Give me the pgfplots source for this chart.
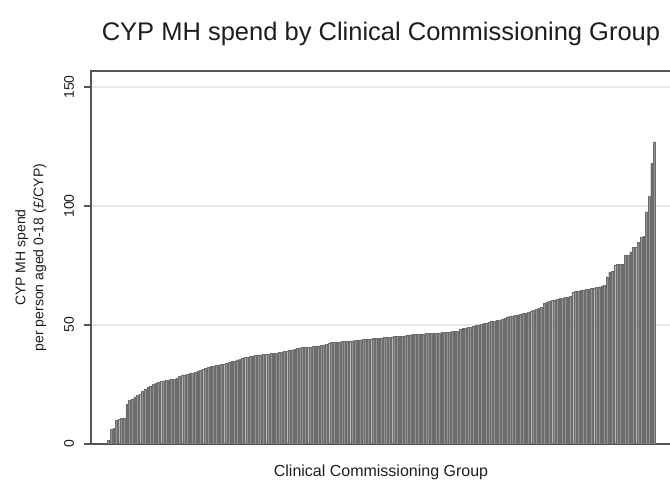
\documentclass[border=0pt]{standalone}
\usepackage{pgfplots}
\pgfplotsset{compat=1.18}
\usepackage{pgfplotstable}
\usepackage{fontspec}
\setmainfont{Liberation Sans}
\definecolor{barfill}{RGB}{146,146,146}
\definecolor{barline}{RGB}{108,108,108}
\definecolor{framec}{RGB}{85,85,85}
\definecolor{gridc}{RGB}{232,232,232}
\definecolor{txt}{RGB}{30,30,30}
\pgfplotstableread{
idx val
1 1.7
2 6.3
3 6.5
4 10.1
5 10.3
6 10.8
7 10.9
8 16.8
9 18.5
10 19.0
11 19.8
12 20.4
13 21.0
14 22.2
15 23.2
16 23.7
17 24.3
18 25.0
19 25.5
20 26.0
21 26.4
22 26.6
23 26.8
24 26.9
25 27.1
26 27.3
27 27.8
28 28.3
29 28.8
30 29.1
31 29.4
32 29.6
33 29.9
34 30.2
35 30.5
36 30.9
37 31.3
38 31.7
39 32.1
40 32.5
41 32.8
42 33.0
43 33.2
44 33.4
45 33.6
46 33.9
47 34.2
48 34.6
49 35.0
50 35.4
51 35.7
52 36.0
53 36.3
54 36.6
55 36.9
56 37.1
57 37.3
58 37.4
59 37.5
60 37.7
61 37.8
62 37.9
63 38.0
64 38.2
65 38.3
66 38.5
67 38.7
68 38.9
69 39.1
70 39.3
71 39.6
72 39.9
73 40.2
74 40.3
75 40.5
76 40.6
77 40.7
78 40.8
79 40.9
80 41.1
81 41.3
82 41.5
83 41.7
84 41.9
85 42.2
86 42.6
87 42.7
88 42.8
89 42.9
90 43.0
91 43.1
92 43.2
93 43.3
94 43.4
95 43.6
96 43.7
97 43.8
98 43.9
99 44.0
100 44.1
101 44.2
102 44.3
103 44.4
104 44.5
105 44.6
106 44.7
107 44.8
108 44.9
109 45.0
110 45.1
111 45.2
112 45.3
113 45.4
114 45.5
115 45.7
116 45.9
117 46.1
118 46.2
119 46.2
120 46.3
121 46.3
122 46.4
123 46.4
124 46.5
125 46.5
126 46.6
127 46.7
128 46.8
129 46.9
130 47.0
131 47.1
132 47.2
133 47.2
134 47.4
135 48.2
136 48.6
137 48.8
138 49.0
139 49.2
140 49.5
141 49.8
142 50.1
143 50.4
144 50.6
145 50.9
146 51.1
147 51.4
148 51.6
149 51.9
150 52.1
151 52.5
152 53.0
153 53.5
154 53.7
155 53.9
156 54.1
157 54.3
158 54.5
159 54.8
160 55.0
161 55.3
162 55.7
163 56.2
164 56.7
165 57.0
166 57.3
167 59.1
168 59.5
169 60.0
170 60.3
171 60.6
172 60.9
173 61.1
174 61.3
175 61.5
176 61.7
177 62.0
178 63.8
179 64.1
180 64.3
181 64.5
182 64.7
183 64.9
184 65.1
185 65.3
186 65.5
187 65.8
188 66.1
189 66.4
190 66.7
191 70.3
192 72.3
193 72.5
194 75.2
195 75.4
196 75.5
197 75.7
198 79.2
199 79.5
200 80.8
201 82.5
202 82.7
203 84.6
204 87.0
205 87.2
206 97.6
207 104.0
208 118.0
209 127.0
}\spend
\begin{document}
\begin{tikzpicture}
\begin{axis}[
  name=ax,
  scale only axis,
  width=580pt, height=373pt,
  xmin=-5.6, xmax=215.4,
  ymin=0, ymax=156.7,
  xtick=\empty,
  ytick={0,50,100,150},
  yticklabels={\raisebox{9pt}{0},\raisebox{9pt}{50},\raisebox{9pt}{100},\raisebox{9pt}{150}},
  ymajorgrids,
  grid style={gridc, line width=1.2pt},
  axis line style={framec, line width=1.3pt},
  y tick style={framec, line width=1.3pt},
  tick align=outside,
  major tick length=7pt,
  ytick pos=left,
  yticklabel style={rotate=90, anchor=south, font=\fontsize{14}{16}\selectfont, text=txt, inner sep=1pt},
  title={CYP MH spend by Clinical Commissioning Group},
  title style={font=\fontsize{25.5}{28}\selectfont, text=txt, anchor=base, at={(axis description cs:0.5,1)}, yshift=24pt},
  xlabel={Clinical Commissioning Group},
  xlabel style={font=\fontsize{16}{18}\selectfont, text=txt, anchor=base, at={(axis description cs:0.5,0)}, yshift=-33pt},
  ylabel={CYP MH spend\\per person aged 0-18 (£/CYP)},
  ylabel style={font=\fontsize{14}{18}\selectfont, text=txt, align=center, anchor=center, at={(axis description cs:-0.104,0.5)}},
]
\addplot[ybar, bar width=0.68, fill=barfill, draw=barline, line width=0.3pt] table[x=idx, y=val] {\spend};
\end{axis}
\pgfresetboundingbox
\path[use as bounding box] ([shift={(-91pt,-38pt)}]ax.south west) rectangle ([shift={(579pt,444pt)}]ax.south west);
\end{tikzpicture}
\end{document}
